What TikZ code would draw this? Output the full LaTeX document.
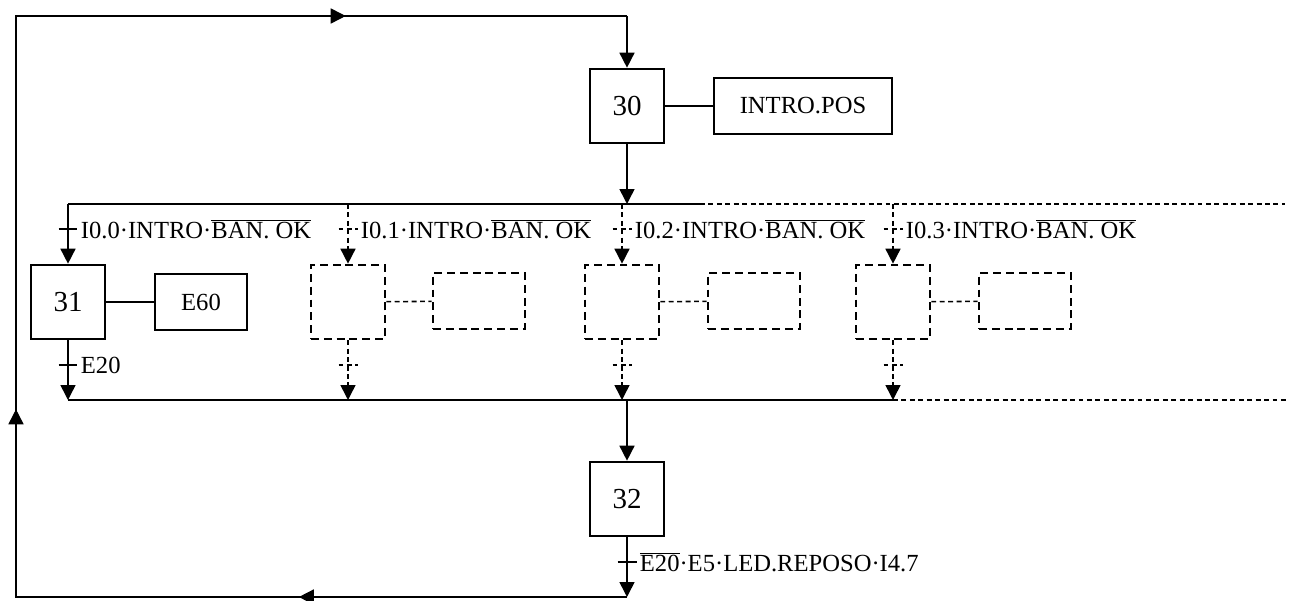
\documentclass[tikz,border=0pt]{standalone}
\usepackage{fontspec}
\setmainfont{Liberation Serif}
\usepackage{tikz}
\usetikzlibrary{arrows.meta, calc, positioning, decorations.markings}
\newcommand{\negado}[1]{$\overline{\mbox{#1}}$}

\begin{document}
\begin{tikzpicture}[x=0.02cm, y=-0.02cm, line width=0.9pt,
  >={Triangle[length=0.3cm, width=0.3cm]},
  etapa/.style={draw, line width=1.5pt, minimum width=1.48cm, minimum height=1.48cm, font=\fontsize{16.5}{18}\selectfont},
  accion/.style={draw, line width=1.5pt, minimum height=1.12cm, font=\fontsize{14}{16}\selectfont},
  hueca/.style={dash pattern=on 4.5pt off 2.8pt},
  trazos/.style={dash pattern=on 2.8pt off 2pt},
  cond/.style={anchor=west, inner sep=1.5pt, font=\fontsize{14}{16}\selectfont},
  vuelta/.style={postaction={decorate}, decoration={markings,
    mark=at position 0.182 with {\arrow{>}},
    mark=at position 0.443 with {\arrow{>}},
    mark=at position 0.844 with {\arrow{>}}}}]
\useasboundingbox (0,0) rectangle (1296,601);
\coordinate (lb) at (16,597);
\coordinate (lt) at (16,16);
\coordinate (rt) at (627,16);
\coordinate (rb) at (627,597);
\coordinate (div) at (627,204);
\coordinate (conv) at (627,400);

\node[etapa] (s30) at (627,106) {30};
\node[accion, minimum width=3.56cm] (a30) at (803,106) {INTRO.POS};
\draw (s30) -- (a30);
\draw[->] (rt) -- (s30);
\draw[->] (s30) -- (div);

% divergencia y convergencia
\coordinate (d0) at (68,204);
\coordinate (dsol) at (700,204);
\coordinate (dfin) at (1285,204);
\coordinate (c0) at (68,400);
\coordinate (csol) at (893,400);
\coordinate (cfin) at (1287,400);
\draw (d0) -- (dsol);
\draw[trazos] (dsol) -- (dfin);
\draw (c0) -- (csol);
\draw[trazos] (csol) -- (cfin);

\node[etapa] (s31) at (68,302) {31};
\node[accion, minimum width=1.84cm] (a31) at (201,302) {E60};
\draw (s31) -- (a31);
\coordinate (t0) at (68,229);
\coordinate (u0) at (68,365);
\draw[->] (d0) -- (s31);
\draw[->] (s31) -- (c0);
\draw ([xshift=-0.19cm]t0) -- ([xshift=0.19cm]t0) node[cond] {I0.0·INTRO·\negado{BAN. OK}};
\draw ([xshift=-0.19cm]u0) -- ([xshift=0.19cm]u0) node[cond] {E20};

\foreach \x/\ax/\n in {348/479/1, 622/754/2, 893/1025/3} {
  \coordinate (d\n) at (\x,204);
  \coordinate (c\n) at (\x,400);
  \coordinate (t\n) at (\x,229);
  \coordinate (u\n) at (\x,365);
  \node[etapa, hueca] (s\n) at (\x,302) {};
  \node[accion, hueca, minimum width=1.84cm] (a\n) at (\ax,301) {};
  \draw[trazos] (s\n) -- (a\n);
  \draw[trazos, ->] (d\n) -- (s\n);
  \draw[trazos, ->] (s\n) -- (c\n);
  \draw[trazos] ([xshift=-0.19cm]t\n) -- ([xshift=0.19cm]t\n) node[cond] {I0.\n·INTRO·\negado{BAN. OK}};
  \draw[trazos] ([xshift=-0.19cm]u\n) -- ([xshift=0.19cm]u\n);
}

\node[etapa] (s32) at (627,499) {32};
\coordinate (t32) at (627,562);
\draw[->] (conv) -- (s32);
\draw[->] (s32) -- (rb);
\draw ([xshift=-0.19cm]t32) -- ([xshift=0.19cm]t32) node[cond] {\negado{E20}·E5·LED.REPOSO·I4.7};

\draw[vuelta] (rb) -- (lb) -- (lt) -- (rt);
\end{tikzpicture}
\end{document}
